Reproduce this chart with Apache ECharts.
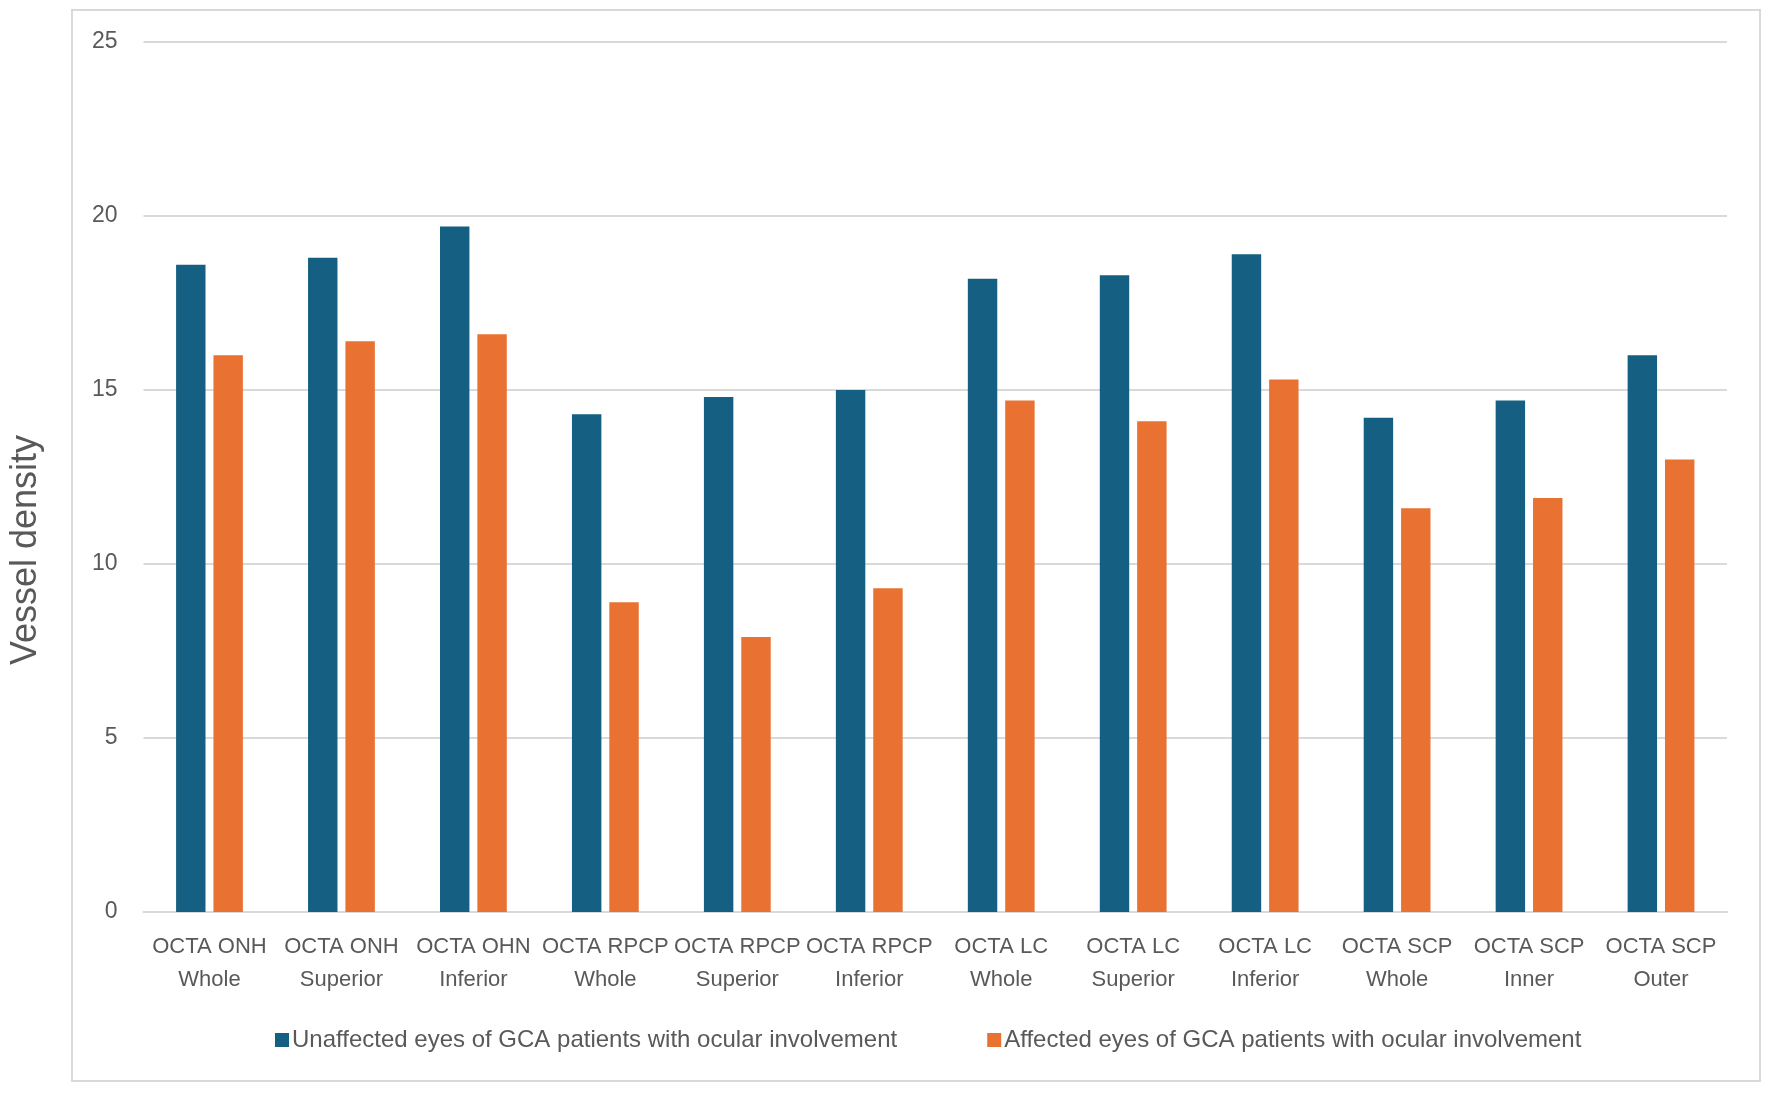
<!DOCTYPE html>
<html>
<head>
<meta charset="utf-8">
<script src="https://cdn.jsdelivr.net/npm/echarts@6/dist/echarts.min.js"></script>
<style>
html,body{margin:0;padding:0;background:#fff;}
#main{width:1772px;height:1093px;}
</style>
</head>
<body>
<div id="main"></div>
<script>
var categories = [
  "OCTA ONH\nWhole", "OCTA ONH\nSuperior", "OCTA OHN\nInferior",
  "OCTA RPCP\nWhole", "OCTA RPCP\nSuperior", "OCTA RPCP\nInferior",
  "OCTA LC\nWhole", "OCTA LC\nSuperior", "OCTA LC\nInferior",
  "OCTA SCP\nWhole", "OCTA SCP\nInner", "OCTA SCP\nOuter"
];
var unaffected = [18.6, 18.8, 19.7, 14.3, 14.8, 15.0, 18.2, 18.3, 18.9, 14.2, 14.7, 16.0];
var affected = [16.0, 16.4, 16.6, 8.9, 7.9, 9.3, 14.7, 14.1, 15.3, 11.6, 11.9, 13.0];
var seriesNames = [
  "Unaffected eyes of GCA patients with ocular involvement",
  "Affected eyes of GCA patients with ocular involvement"
];
var yAxisTitle = "Vessel density";

var chart = echarts.init(document.getElementById('main'));
var fontFam = '"Liberation Sans", Arial, sans-serif';
chart.setOption({
  animation: false,
  backgroundColor: '#ffffff',
  color: ['#156082', '#E97132'],
  graphic: [{
    type: 'rect',
    shape: { x: 72, y: 10, width: 1688, height: 1071 },
    style: { fill: 'none', stroke: '#d9d9d9', lineWidth: 2 },
    silent: true
  }, {
    type: 'text',
    x: 26, y: 550,
    rotation: Math.PI / 2,
    style: {
      text: yAxisTitle, fill: '#595959', font: '36px ' + fontFam,
      align: 'center', verticalAlign: 'middle'
    }
  }],
  grid: { left: 143.5, right: 45, top: 42, bottom: 181, containLabel: false },
  legend: {
    left: 270, top: 1023,
    itemWidth: 14, itemHeight: 14, itemGap: 90,
    icon: 'rect',
    textStyle: { color: '#595959', fontSize: 24, fontFamily: fontFam, padding: [0, 0, 0, -2] },
    data: seriesNames
  },
  xAxis: {
    type: 'category',
    data: categories,
    axisLine: { lineStyle: { color: '#d9d9d9', width: 2 } },
    axisTick: { show: false },
    axisLabel: {
      color: '#595959', fontSize: 22, fontFamily: fontFam,
      lineHeight: 33, margin: 18, interval: 0
    }
  },
  yAxis: {
    type: 'value',
    min: 0, max: 25, interval: 5,
    axisLine: { show: false },
    axisTick: { show: false },
    splitLine: { lineStyle: { color: '#d9d9d9', width: 2 } },
    axisLabel: { color: '#595959', fontSize: 23, fontFamily: fontFam, margin: 26 }
  },
  series: [{
    name: seriesNames[0], type: 'bar', data: unaffected,
    barWidth: '22.3%', barGap: '27%'
  }, {
    name: seriesNames[1], type: 'bar', data: affected,
    barWidth: '22.3%', barGap: '27%'
  }]
});
</script>
</body>
</html>
